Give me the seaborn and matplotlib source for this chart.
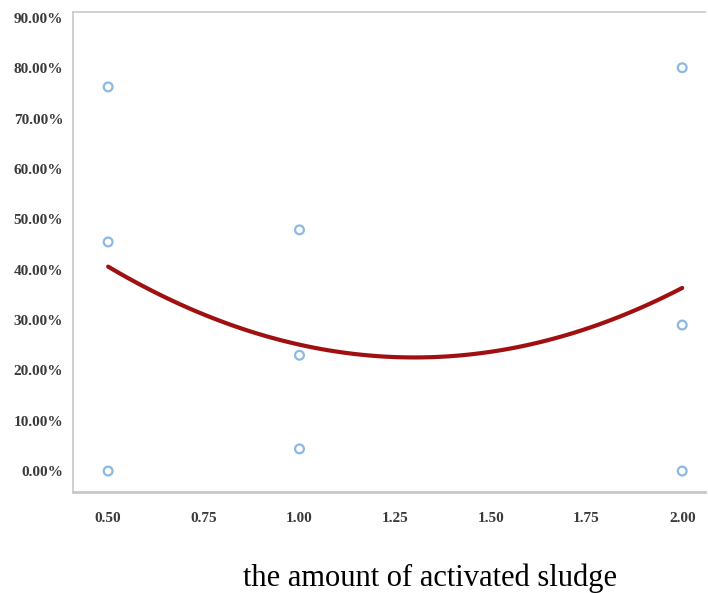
import pandas as pd
import matplotlib
matplotlib.use("Agg")
import matplotlib.pyplot as plt
from matplotlib.ticker import PercentFormatter, MultipleLocator
import seaborn as sns

# values
sludge = [0.5, 0.5, 0.5, 1.0, 1.0, 1.0, 2.0, 2.0, 2.0]
removal = [76.3, 45.5, 0.0, 47.9, 23.0, 4.4, 80.1, 29.0, 0.0]
x_ticks = [0.50, 0.75, 1.00, 1.25, 1.50, 1.75, 2.00]

df = pd.DataFrame({"sludge": sludge, "removal": removal})

sns.set_theme(style="white")
plt.rcParams["font.family"] = ["Liberation Serif", "DejaVu Serif"]

fig = plt.figure(figsize=(7.08, 5.93), dpi=100)
ax = fig.add_axes([0.103, 0.170, 0.893, 0.810])

sns.regplot(data=df, x="sludge", y="removal", order=2, ci=None, ax=ax,
            scatter_kws=dict(s=40, facecolors="none", edgecolors="#6fa8dc", linewidths=1.6),
            line_kws=dict(color="#a01010", lw=3))

ax.set_xlim(0.408, 2.06)
ax.set_ylim(-4.2, 91.2)
ax.set_xticks(x_ticks)
ax.set_xticklabels([f"{t:.2f}" for t in x_ticks])
ax.yaxis.set_major_locator(MultipleLocator(10))
ax.yaxis.set_major_formatter(PercentFormatter(xmax=100, decimals=2))

for side in ["left", "bottom", "top"]:
    ax.spines[side].set_color("#c8c8c8")
    ax.spines[side].set_linewidth(1.2)
ax.spines["bottom"].set_linewidth(2)
ax.spines["right"].set_visible(False)

ax.tick_params(axis="both", which="major", length=3, width=1, color="#b0b0b0",
               labelsize=11, labelcolor="#3a3a3a", direction="out")
ax.tick_params(axis="x", pad=11)
ax.tick_params(axis="y", pad=4)
for lab in ax.get_xticklabels() + ax.get_yticklabels():
    lab.set_fontweight("bold")

ax.set_ylabel("")
ax.set_xlabel("the amount of activated sludge", fontsize=22, color="black")
ax.xaxis.set_label_coords(0.565, -0.148)
ax.xaxis.label.set_va("top")

fig.savefig("out.png", dpi=100)
